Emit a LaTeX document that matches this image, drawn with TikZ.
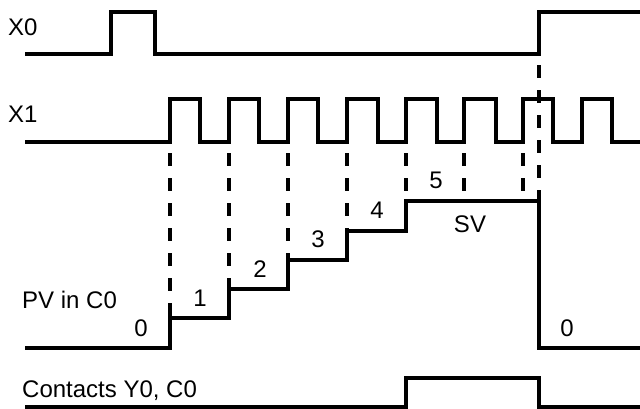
\documentclass[tikz,border=0pt]{standalone}
\usepackage{fontspec}
\setmainfont{Liberation Sans}
\begin{document}
\begin{tikzpicture}[x=1pt,y=-1pt,
  wave/.style={line width=3.3pt, line join=miter},
  guide/.style={line width=3.3pt, dash pattern=on 13pt off 12pt},
  lbl/.style={inner sep=0pt, font=\fontsize{24}{28}\selectfont},
  lblw/.style={lbl, anchor=base west},
  lblc/.style={lbl, anchor=base}]
\useasboundingbox (0,0) rectangle (640,408);
% labels
\node[lblw] (lx0) at (8,35) {X0};
\node[lblw] (lx1) at (8,122) {X1};
\node[lblw] (lpv) at (22,308) {PV in C0};
\node[lblw] (lct) at (22,397) {Contacts Y0, C0};
\node[lblc] (n0) at (141,336) {0};
\node[lblc] (n1) at (200,306) {1};
\node[lblc] (n2) at (260,277) {2};
\node[lblc] (n3) at (318,247) {3};
\node[lblc] (n4) at (377,218) {4};
\node[lblc] (n5) at (436,188) {5};
\node[lblc] (nsv) at (470,232) {SV};
\node[lblc] (nz) at (567,336) {0};
% X0
\draw[wave] (25,54) -- (111,54) -- (111,12) -- (155,12) -- (155,54) -- (539,54) -- (539,12) -- (640,12);
% X1
\draw[wave] (25,142) -- (170,142) -- (170,99) -- (200,99) -- (200,142)
  -- (229,142) -- (229,99) -- (259,99) -- (259,142)
  -- (288,142) -- (288,99) -- (318,99) -- (318,142)
  -- (347,142) -- (347,99) -- (378,99) -- (378,142)
  -- (406,142) -- (406,99) -- (437,99) -- (437,142)
  -- (464,142) -- (464,99) -- (496,99) -- (496,142)
  -- (523,142) -- (523,99) -- (553,99) -- (553,142)
  -- (582,142) -- (582,99) -- (612,99) -- (612,142) -- (640,142);
% PV
\draw[wave] (25,348) -- (170,348) -- (170,318) -- (229,318) -- (229,289) -- (288,289)
  -- (288,260) -- (347,260) -- (347,231) -- (406,231) -- (406,201) -- (539,201)
  -- (539,348) -- (640,348);
% Contacts
\draw[wave] (25,407) -- (406,407) -- (406,378) -- (539,378) -- (539,407) -- (640,407);
% dashed guides
\draw[guide] (170,153) -- (170,318);
\draw[guide] (229,153) -- (229,289);
\draw[guide] (288,153) -- (288,260);
\draw[guide] (347,153) -- (347,231);
\draw[guide] (406,153) -- (406,201);
\draw[guide] (464,153) -- (464,201);
\draw[guide] (523,153) -- (523,201);
\draw[guide] (539,65) -- (539,201);
\end{tikzpicture}
\end{document}
